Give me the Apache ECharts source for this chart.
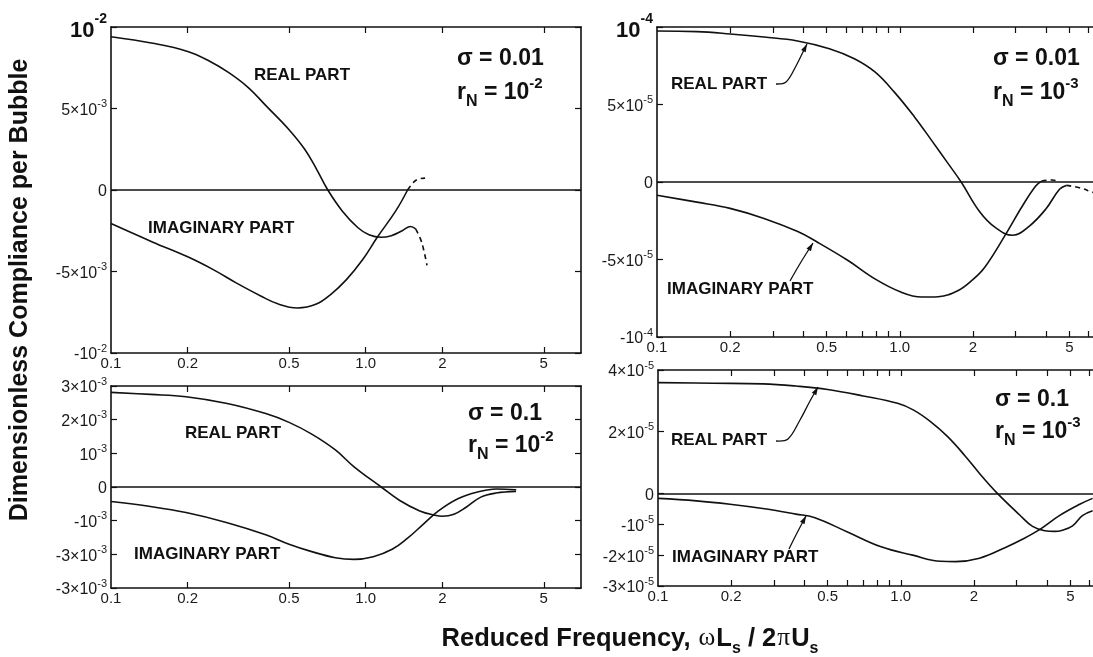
<!DOCTYPE html>
<html><head><meta charset="utf-8">
<script src="https://cdn.jsdelivr.net/npm/echarts@6/dist/echarts.min.js"></script>
<style>html,body{margin:0;padding:0;background:#fff}#c{width:1093px;height:657px}</style>
</head><body><div id="c"></div>
<script>
// ---------- tick values & labels ----------
const X_TICKS = [0.1, 0.2, 0.5, 1, 2, 5];
const X_TICK_LABELS = ['0.1', '0.2', '0.5', '1.0', '2', '5'];
const X_TICK_MARKS_LEFT = [0.2, 0.5, 1, 2, 5];
const X_TICK_MARKS_RIGHT = [0.2, 0.3, 0.4, 0.5, 0.6, 0.7, 0.8, 0.9, 1, 2, 3, 4, 5, 6, 7];

const TL_Y_TICKS = [-0.01, -0.005, 0, 0.005, 0.01];
const TL_Y_LABELS = ['-10^-2', '-5×10^-3', '0', '5×10^-3', '10^-2'];
const TR_Y_TICKS = [-1e-4, -5e-5, 0, 5e-5, 1e-4];
const TR_Y_LABELS = ['-10^-4', '-5×10^-5', '0', '5×10^-5', '10^-4'];
const BL_Y_TICKS = [-3e-3, -2e-3, -1e-3, 0, 1e-3, 2e-3, 3e-3];
const BL_Y_LABELS = ['-3×10^-3', '-3×10^-3', '-10^-3', '0', '10^-3', '2×10^-3', '3×10^-3'];
const BR_Y_TICKS = [-3e-5, -2e-5, -1e-5, 0, 2e-5, 4e-5];
const BR_Y_LABELS = ['-3×10^-5', '-2×10^-5', '-10^-5', '0', '2×10^-5', '4×10^-5'];

// ---------- top-left: sigma = 0.01, rN = 1e-2 ----------
const TL_REAL_F = [0.1, 0.146, 0.2, 0.244, 0.29, 0.345, 0.41, 0.5, 0.576, 0.64, 0.71, 0.81, 0.93, 1.03, 1.15, 1.26, 1.39, 1.50, 1.57];
const TL_REAL = [9.4e-3, 9.0e-3, 8.5e-3, 7.9e-3, 7.2e-3, 6.3e-3, 5.1e-3, 3.7e-3, 2.5e-3, 1.3e-3, 0, -1.3e-3, -2.3e-3, -2.75e-3, -2.9e-3, -2.8e-3, -2.5e-3, -2.24e-3, -2.39e-3];
const TL_REAL_DASH_F = [1.57, 1.64, 1.69, 1.74];
const TL_REAL_DASH = [-2.39e-3, -3.0e-3, -3.7e-3, -4.63e-3];
const TL_IMAG_F = [0.1, 0.146, 0.2, 0.253, 0.31, 0.387, 0.454, 0.54, 0.64, 0.73, 0.84, 0.97, 1.11, 1.31, 1.46];
const TL_IMAG = [-2.06e-3, -3.2e-3, -4.1e-3, -4.9e-3, -5.7e-3, -6.5e-3, -7.0e-3, -7.24e-3, -7.0e-3, -6.4e-3, -5.5e-3, -4.3e-3, -2.9e-3, -1.3e-3, 0];
const TL_IMAG_DASH_F = [1.46, 1.54, 1.61, 1.71];
const TL_IMAG_DASH = [0, 0.47e-3, 0.67e-3, 0.73e-3];

// ---------- top-right: sigma = 0.01, rN = 1e-3 ----------
const TR_REAL_F = [0.1, 0.146, 0.2, 0.276, 0.379, 0.513, 0.65, 0.79, 0.95, 1.15, 1.35, 1.58, 1.79, 2.13, 2.48, 2.92, 3.42, 3.99, 4.55, 4.85];
const TR_REAL = [9.74e-5, 9.7e-5, 9.55e-5, 9.35e-5, 9.1e-5, 8.6e-5, 7.95e-5, 7.1e-5, 5.8e-5, 4.2e-5, 2.7e-5, 1.2e-5, 0, -1.9e-5, -2.95e-5, -3.44e-5, -2.84e-5, -1.76e-5, -0.47e-5, -0.22e-5];
const TR_REAL_DASH_F = [4.85, 5.5, 6.2, 6.6];
const TR_REAL_DASH = [-0.22e-5, -0.37e-5, -0.65e-5, -0.8e-5];
const TR_IMAG_F = [0.1, 0.146, 0.2, 0.276, 0.38, 0.46, 0.61, 0.79, 1.01, 1.23, 1.44, 1.74, 2.0, 2.24, 2.73, 3.2, 3.63, 3.84];
const TR_IMAG = [-0.86e-5, -1.3e-5, -1.7e-5, -2.35e-5, -3.2e-5, -3.9e-5, -5.05e-5, -6.25e-5, -7.1e-5, -7.42e-5, -7.4e-5, -7.0e-5, -6.3e-5, -5.5e-5, -3.38e-5, -1.55e-5, -0.26e-5, 0.06e-5];
const TR_IMAG_DASH_F = [3.84, 4.25, 4.55];
const TR_IMAG_DASH = [0.06e-5, 0.13e-5, 0.02e-5];

// ---------- bottom-left: sigma = 0.1, rN = 1e-2 ----------
const BL_REAL_F = [0.1, 0.143, 0.197, 0.286, 0.405, 0.5, 0.614, 0.76, 0.90, 1.15, 1.36, 1.63, 1.87, 2.0, 2.22, 2.47, 2.83, 3.25, 3.89];
const BL_REAL = [2.81e-3, 2.75e-3, 2.68e-3, 2.48e-3, 2.18e-3, 1.92e-3, 1.57e-3, 1.1e-3, 0.6e-3, 0, -0.4e-3, -0.71e-3, -0.84e-3, -0.87e-3, -0.81e-3, -0.61e-3, -0.3e-3, -0.18e-3, -0.13e-3];
const BL_IMAG_F = [0.1, 0.143, 0.197, 0.286, 0.405, 0.5, 0.614, 0.76, 0.90, 1.07, 1.27, 1.46, 1.68, 1.93, 2.3, 2.75, 3.25, 3.9];
const BL_IMAG = [-0.43e-3, -0.58e-3, -0.76e-3, -1.06e-3, -1.42e-3, -1.70e-3, -1.92e-3, -2.10e-3, -2.15e-3, -2.07e-3, -1.85e-3, -1.52e-3, -1.11e-3, -0.71e-3, -0.35e-3, -0.15e-3, -0.06e-3, -0.08e-3];

// ---------- bottom-right: sigma = 0.1, rN = 1e-3 ----------
const BR_REAL_F = [0.1, 0.169, 0.27, 0.37, 0.5, 0.7, 0.97, 1.13, 1.33, 1.56, 1.83, 2.14, 2.5, 3.09, 3.49, 3.92, 4.3, 4.64, 5.1, 5.6, 6.17];
const BR_REAL = [3.59e-5, 3.57e-5, 3.55e-5, 3.48e-5, 3.37e-5, 3.16e-5, 2.92e-5, 2.70e-5, 2.32e-5, 1.84e-5, 1.24e-5, 0.59e-5, 0, -0.7e-5, -1.07e-5, -1.21e-5, -1.23e-5, -1.19e-5, -1.05e-5, -0.72e-5, -0.56e-5];
const BR_IMAG_F = [0.1, 0.144, 0.198, 0.27, 0.37, 0.44, 0.6, 0.83, 1.12, 1.46, 1.68, 2.11, 2.7, 3.2, 3.77, 4.5, 5.46, 6.17];
const BR_IMAG = [-0.16e-5, -0.24e-5, -0.35e-5, -0.49e-5, -0.67e-5, -0.78e-5, -1.24e-5, -1.73e-5, -2.0e-5, -2.2e-5, -2.21e-5, -2.1e-5, -1.75e-5, -1.47e-5, -1.15e-5, -0.72e-5, -0.35e-5, -0.16e-5];

// ---------- build ----------
const INK = '#111';
const FONT = 'Liberation Sans';
const zip = (a, b) => a.map((v, i) => [v, b[i]]);

function richLabel(s, big) {
  const i = s.indexOf('^');
  const b = big ? 'B' : 'n', p = big ? 'BS' : 's';
  if (i < 0) return '{' + b + '|' + s + '}';
  return '{' + b + '|' + s.slice(0, i) + '}{' + p + '|' + s.slice(i + 1) + '}';
}
const Y_RICH = {
  n: {fontSize: 16, fontFamily: FONT, color: '#1a1a1a', padding: [4, 0, 0, 0], verticalAlign: 'bottom'},
  s: {fontSize: 11, fontFamily: FONT, color: '#1a1a1a', verticalAlign: 'top'},
  B: {fontSize: 22, fontWeight: 'bold', fontFamily: FONT, color: INK, padding: [7, 0, 0, 0], verticalAlign: 'bottom'},
  BS: {fontSize: 14, fontWeight: 'bold', fontFamily: FONT, color: INK, verticalAlign: 'top'}
};
const AX_LINE = {show: true, onZero: false, lineStyle: {color: INK, width: 1.6}};

function xAxes(gi, max, marks) {
  const base = {type: 'log', logBase: 10, gridIndex: gi, min: 0.1, max: max,
    axisLine: AX_LINE, splitLine: {show: false}, minorTick: {show: false}, minorSplitLine: {show: false},
    axisTick: {show: true, inside: true, length: 6, customValues: marks, lineStyle: {color: INK, width: 1.2}}};
  return [
    Object.assign({}, base, {position: 'bottom',
      axisLabel: {show: true, customValues: X_TICKS, margin: 3, fontSize: 15, fontFamily: FONT, color: '#1a1a1a',
        formatter: v => { const k = X_TICKS.findIndex(t => Math.abs(v - t) / t < 1e-6); return k < 0 ? '' : X_TICK_LABELS[k]; }}}),
    Object.assign({}, base, {position: 'top', axisLabel: {show: false}})
  ];
}
function yAxes(gi, ticks, labels, bigTop) {
  const min = ticks[0], max = ticks[ticks.length - 1];
  const base = {type: 'value', gridIndex: gi, min: min, max: max, axisLine: AX_LINE, splitLine: {show: false},
    axisTick: {show: true, inside: true, length: 6, customValues: ticks, lineStyle: {color: INK, width: 1.2}}};
  const span = max - min;
  return [
    Object.assign({}, base, {position: 'left',
      axisLabel: {show: true, customValues: ticks, margin: 4, rich: Y_RICH,
        formatter: v => { const k = ticks.findIndex(t => Math.abs(v - t) < span * 1e-6); if (k < 0) return '';
          return richLabel(labels[k], bigTop && k === ticks.length - 1); }}}),
    Object.assign({}, base, {position: 'right', axisLabel: {show: false}})
  ];
}
function line(gi, data, dashed, zero) {
  const s = {type: 'line', xAxisIndex: 2 * gi, yAxisIndex: 2 * gi, data: data, showSymbol: false, symbol: 'none',
    smooth: 0.4, clip: true, silent: true,
    lineStyle: {color: INK, width: 1.6, type: dashed ? [5, 4] : 'solid'}};
  if (zero) s.markLine = {silent: true, symbol: ['none', 'none'], label: {show: false}, animation: false,
    lineStyle: {color: INK, width: 1.5, type: 'solid'}, data: [{yAxis: 0}]};
  return s;
}

const grids = [
  {left: 111, top: 27, width: 470, height: 326},
  {left: 657, top: 27, width: 462, height: 310},
  {left: 111, top: 386, width: 470, height: 202},
  {left: 658, top: 370, width: 462, height: 216}
];

const option = {
  animation: false,
  backgroundColor: '#fff',
  grid: grids.map(g => Object.assign({show: false, containLabel: false, outerBoundsMode: 'none'}, g)),
  xAxis: [].concat(xAxes(0, 7, X_TICK_MARKS_LEFT), xAxes(1, 8, X_TICK_MARKS_RIGHT), xAxes(2, 7, X_TICK_MARKS_LEFT), xAxes(3, 8, X_TICK_MARKS_RIGHT)),
  yAxis: [].concat(yAxes(0, TL_Y_TICKS, TL_Y_LABELS, true), yAxes(1, TR_Y_TICKS, TR_Y_LABELS, true), yAxes(2, BL_Y_TICKS, BL_Y_LABELS, false), yAxes(3, BR_Y_TICKS, BR_Y_LABELS, false)),
  series: [
    line(0, zip(TL_REAL_F, TL_REAL), false, true),
    line(0, zip(TL_REAL_DASH_F, TL_REAL_DASH), true),
    line(0, zip(TL_IMAG_F, TL_IMAG), false),
    line(0, zip(TL_IMAG_DASH_F, TL_IMAG_DASH), true),
    line(1, zip(TR_REAL_F, TR_REAL), false, true),
    line(1, zip(TR_REAL_DASH_F, TR_REAL_DASH), true),
    line(1, zip(TR_IMAG_F, TR_IMAG), false),
    line(1, zip(TR_IMAG_DASH_F, TR_IMAG_DASH), true),
    line(2, zip(BL_REAL_F, BL_REAL), false, true),
    line(2, zip(BL_IMAG_F, BL_IMAG), false),
    line(3, zip(BR_REAL_F, BR_REAL), false, true),
    line(3, zip(BR_IMAG_F, BR_IMAG), false)
  ]
};

// ---------- annotations ----------
function txt(x, y, text, size) {
  return {type: 'text', x: x, y: y, silent: true, style: {text: text, fontSize: size, fontWeight: 'bold',
    fontFamily: FONT, fill: INK, align: 'left', verticalAlign: 'middle', textAlign: 'left', textVerticalAlign: 'middle'}};
}
const PARAM_RICH = {
  b: {fontSize: 23, fontWeight: 'bold', fontFamily: FONT, fill: INK, padding: [5, 0, 5, 0], verticalAlign: 'middle'},
  sub: {fontSize: 16, fontWeight: 'bold', fontFamily: FONT, fill: INK, verticalAlign: 'bottom'},
  sup: {fontSize: 15, fontWeight: 'bold', fontFamily: FONT, fill: INK, verticalAlign: 'top'}
};
function paramBlock(x, y1, y2, sigma, rExp) {
  return [
    txt(x, y1, '\u03c3 = ' + sigma, 23),
    {type: 'text', x: x, y: y2, silent: true, style: {text: '{b|r}{sub|N}{b| = 10}{sup|' + rExp + '}', rich: PARAM_RICH,
      align: 'left', verticalAlign: 'middle', textAlign: 'left', textVerticalAlign: 'middle'}}
  ];
}
function leader(points) {
  const n = points.length, T = points[n - 1], P = points[n - 2];
  let dx = T[0] - P[0], dy = T[1] - P[1]; const L = Math.hypot(dx, dy); dx /= L; dy /= L;
  const bx = T[0] - dx * 8, by = T[1] - dy * 8, nx = -dy * 2.6, ny = dx * 2.6;
  return [
    {type: 'polyline', silent: true, shape: {points: points, smooth: 0.35}, style: {stroke: INK, lineWidth: 1.3, fill: null}},
    {type: 'polygon', silent: true, shape: {points: [T, [bx + nx, by + ny], [bx - nx, by - ny]]}, style: {fill: INK}}
  ];
}
const PART = 17;
option.graphic = [].concat(
  [{type: 'text', x: 20, y: 290, rotation: Math.PI / 2, silent: true,
    style: {text: 'Dimensionless Compliance per Bubble', fontSize: 25, fontWeight: 'bold', fontFamily: FONT, fill: INK,
      align: 'center', verticalAlign: 'middle', textAlign: 'center', textVerticalAlign: 'middle'}},
   {type: 'text', x: 630, y: 641, silent: true,
    style: {text: '{t|Reduced Frequency, }{g|\u03c9}{t|L}{u|s}{t| / 2}{g|\u03c0}{t|U}{u|s}',
      align: 'center', verticalAlign: 'middle', textAlign: 'center', textVerticalAlign: 'middle',
      rich: {t: {fontSize: 25.5, fontWeight: 'bold', fontFamily: FONT, fill: INK, padding: [0, 0, 5, 0], verticalAlign: 'top'},
             g: {fontSize: 25.5, fontFamily: 'Liberation Serif', fill: INK, padding: [0, 1, 5, 1], verticalAlign: 'top'},
             u: {fontSize: 16, fontWeight: 'bold', fontFamily: FONT, fill: INK, verticalAlign: 'bottom'}}}}],
  // top-left
  [txt(254, 75, 'REAL PART', PART), txt(148, 228, 'IMAGINARY PART', PART)],
  paramBlock(457, 59, 93, '0.01', '-2'),
  // top-right
  [txt(671, 84, 'REAL PART', PART), txt(667, 289, 'IMAGINARY PART', PART)],
  paramBlock(993, 59, 93, '0.01', '-3'),
  leader([[776, 84], [786, 82], [796, 66], [803, 52], [807, 44]]),
  leader([[790, 281], [801, 262], [813, 243]]),
  // bottom-left
  [txt(185, 433, 'REAL PART', PART), txt(134, 554, 'IMAGINARY PART', PART)],
  paramBlock(468, 414, 446, '0.1', '-2'),
  // bottom-right
  [txt(671, 440, 'REAL PART', PART), txt(672, 557, 'IMAGINARY PART', PART)],
  paramBlock(995, 400, 432, '0.1', '-3'),
  leader([[776, 441], [788, 439], [800, 420], [810, 401], [818, 387]]),
  leader([[789, 549], [797, 533], [806, 516]])
);

const chart = echarts.init(document.getElementById('c'), null, {renderer: 'canvas'});
chart.setOption(option);
</script>
</body></html>
